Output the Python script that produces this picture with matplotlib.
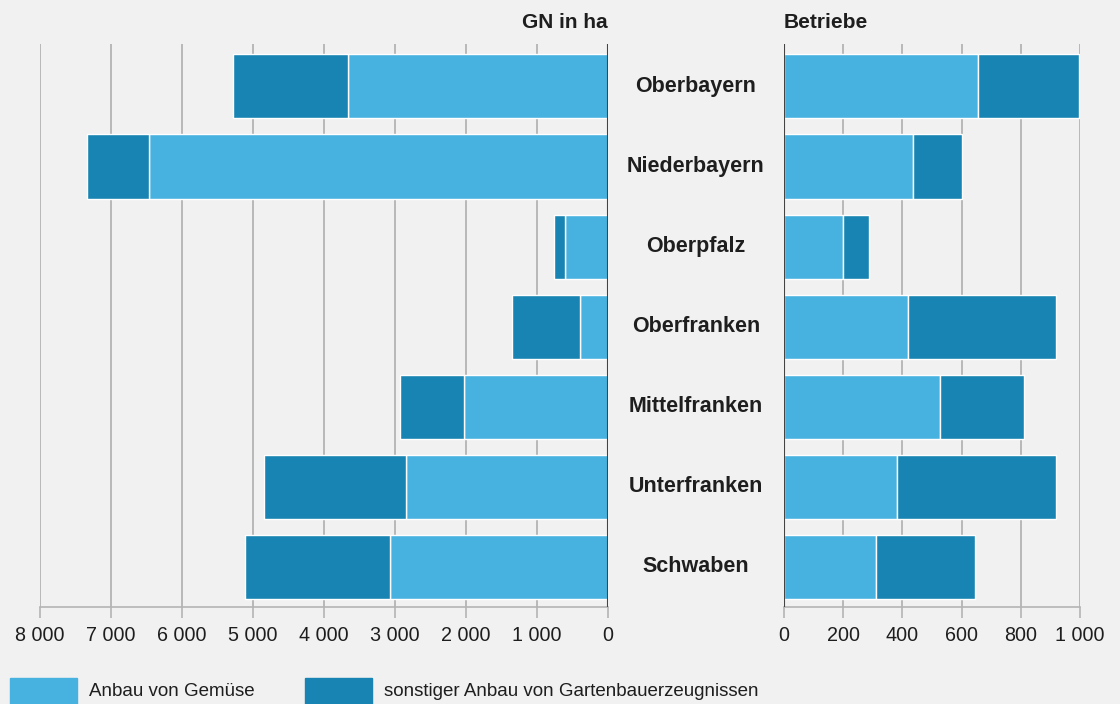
"""Gemüse- und Gartenbau nach Regierungsbezirken: Fläche und Betriebe."""

import matplotlib
matplotlib.use("Agg")
import matplotlib.pyplot as plt
from matplotlib.patches import Rectangle
from matplotlib.ticker import FuncFormatter

plt.rcParams["font.family"] = ["Liberation Sans", "DejaVu Sans"]

# ── Data ──────────────────────────────────────────────────────────────────────
bezirke = ["Oberbayern", "Niederbayern", "Oberpfalz", "Oberfranken",
           "Mittelfranken", "Unterfranken", "Schwaben"]
gn_gemuese   = [3660, 6460, 610, 390, 2030, 2850, 3070]
gn_sonstig   = [1620, 880, 150, 960, 900, 2000, 2040]
betr_gemuese = [655, 436, 199, 419, 527, 382, 311]
betr_sonstig = [342, 165, 88, 500, 284, 537, 334]

left_ticks  = [8000, 7000, 6000, 5000, 4000, 3000, 2000, 1000, 0]
right_ticks = [0, 200, 400, 600, 800, 1000]

LIGHT = "#47b2e0"
DARK  = "#1884b3"
BG    = "#f1f1f1"
GRID  = "#b4b4b4"
TEXT  = "#1e1e1e"

fmt = FuncFormatter(lambda v, _: f"{int(v):,}".replace(",", " "))

fig = plt.figure(figsize=(11.2, 7.04), dpi=100, facecolor=BG)
ax_l = fig.add_axes([40 / 1120, 97 / 704, 568 / 1120, 563 / 704], facecolor=BG)
ax_r = fig.add_axes([784 / 1120, 97 / 704, 296 / 1120, 563 / 704], facecolor=BG)

ypos = list(range(len(bezirke)))

# ── Left: GN in ha ────────────────────────────────────────────────────────────
ax_l.barh(ypos, gn_gemuese, height=0.8, color=LIGHT, edgecolor="white", linewidth=1, zorder=3)
ax_l.barh(ypos, gn_sonstig, left=gn_gemuese, height=0.8, color=DARK,
          edgecolor="white", linewidth=1, zorder=3)
ax_l.set_xlim(8000, 0)
ax_l.set_xticks(left_ticks)

# ── Right: Betriebe ───────────────────────────────────────────────────────────
ax_r.barh(ypos, betr_gemuese, height=0.8, color=LIGHT, edgecolor="white", linewidth=1, zorder=3)
ax_r.barh(ypos, betr_sonstig, left=betr_gemuese, height=0.8, color=DARK,
          edgecolor="white", linewidth=1, zorder=3)
ax_r.set_xlim(0, 1000)
ax_r.set_xticks(right_ticks)

for ax in (ax_l, ax_r):
    ax.set_ylim(len(bezirke) - 0.5, -0.53)
    ax.set_yticks([])
    ax.xaxis.set_major_formatter(fmt)
    ax.grid(axis="x", color=GRID, linewidth=1.3, zorder=0)
    ax.tick_params(axis="x", length=8, width=1.2, color=GRID, labelsize=14.2,
                   labelcolor=TEXT, pad=6)
    for s in ("top", "left", "right"):
        ax.spines[s].set_visible(False)
    ax.spines["bottom"].set_color(GRID)
    ax.spines["bottom"].set_linewidth(1.2)

# zero lines
ax_l.axvline(0, color="#444444", linewidth=1.5, zorder=4)
ax_r.axvline(0, color="#444444", linewidth=1.5, zorder=4)

# ── Titles and category labels ────────────────────────────────────────────────
fig.text(608 / 1120, 1 - 22 / 704, "GN in ha", ha="right", va="center",
         fontsize=15, fontweight="bold", color=TEXT)
fig.text(784 / 1120, 1 - 22 / 704, "Betriebe", ha="left", va="center",
         fontsize=15, fontweight="bold", color=TEXT)
for i, name in enumerate(bezirke):
    ax_l.annotate(name, xy=(1, i), xycoords=("axes fraction", "data"),
                  xytext=(88, 0), textcoords="offset pixels",
                  ha="center", va="center", fontsize=15.5, fontweight="bold",
                  color=TEXT, annotation_clip=False)

# ── Legend ────────────────────────────────────────────────────────────────────
legend_items = [("Anbau von Gemüse", LIGHT, 10),
                ("sonstiger Anbau von Gartenbauerzeugnissen", DARK, 305)]
for label, col, x0 in legend_items:
    fig.patches.append(Rectangle((x0 / 1120, 0), 67 / 1120, 26 / 704,
                                 transform=fig.transFigure, color=col))
    fig.text((x0 + 79) / 1120, 1 - 692 / 704, label, ha="left", va="center",
             fontsize=13.5, color=TEXT)

fig.savefig("out.png", dpi=100, facecolor=BG)
